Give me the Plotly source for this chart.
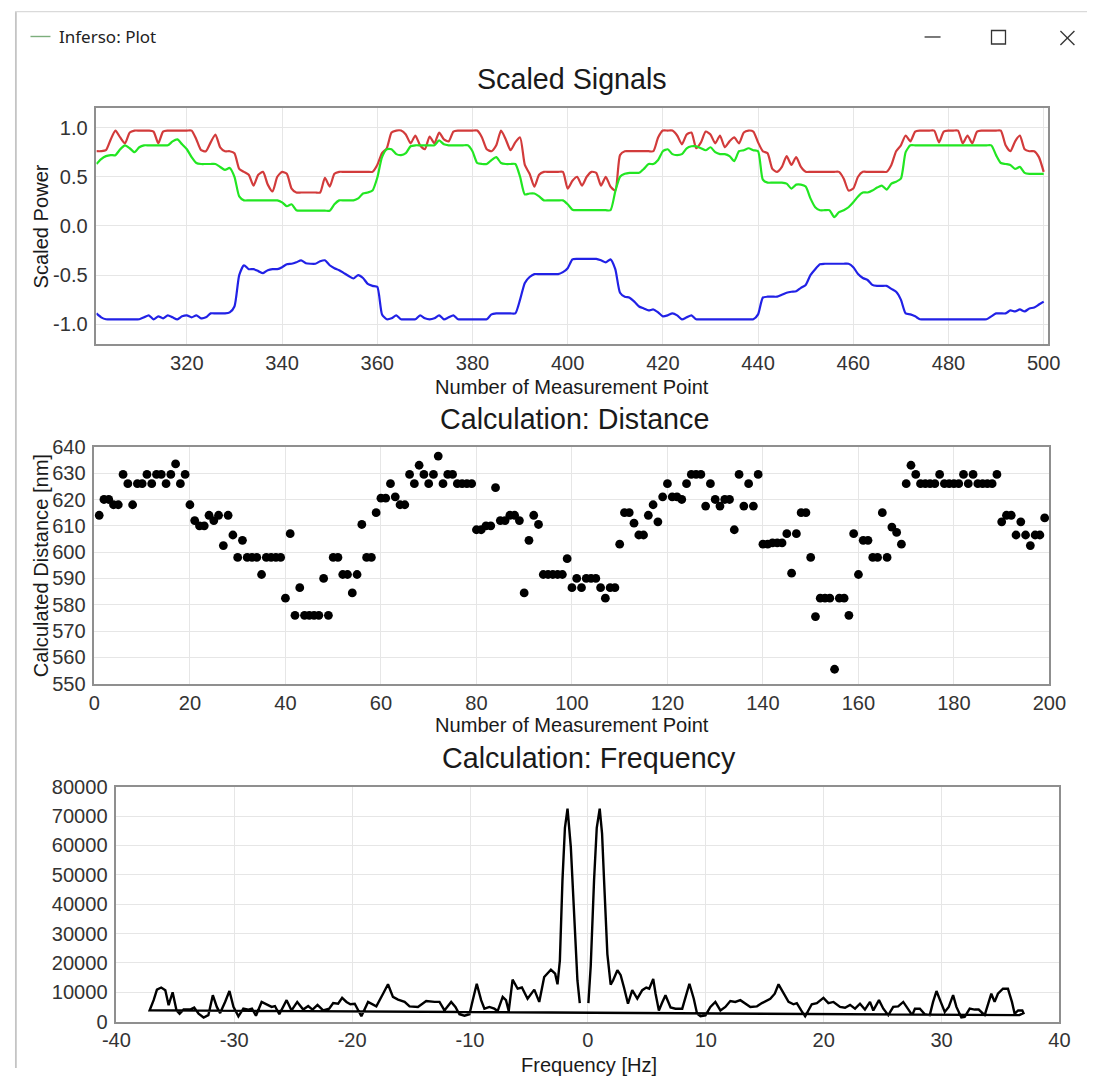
import plotly.graph_objects as go

# ---------------- data ----------------
sig_x = list(range(301, 501))
red_signal = [
    0.76, 0.76, 0.77, 0.88, 0.97, 0.90, 0.84, 0.95, 0.97, 0.97,
    0.97, 0.97, 0.96, 0.84, 0.96, 0.97, 0.97, 0.97, 0.97, 0.97,
    0.97, 0.88, 0.77, 0.76, 0.85, 0.93, 0.80, 0.76, 0.76, 0.74,
    0.58, 0.55, 0.52, 0.41, 0.52, 0.55, 0.42, 0.35, 0.50, 0.55,
    0.53, 0.38, 0.34, 0.34, 0.34, 0.34, 0.34, 0.34, 0.49, 0.40,
    0.53, 0.55, 0.55, 0.55, 0.55, 0.55, 0.55, 0.55, 0.55, 0.62,
    0.74, 0.79, 0.95, 0.97, 0.97, 0.93, 0.84, 0.92, 0.82, 0.78,
    0.91, 0.84, 0.95, 0.88, 0.86, 0.96, 0.97, 0.97, 0.97, 0.97,
    0.97, 0.90, 0.78, 0.76, 0.82, 0.97, 0.88, 0.77, 0.85, 0.90,
    0.62, 0.53, 0.40, 0.52, 0.55, 0.55, 0.55, 0.55, 0.55, 0.38,
    0.46, 0.50, 0.41, 0.50, 0.55, 0.54, 0.41, 0.50, 0.40, 0.36,
    0.72, 0.76, 0.76, 0.76, 0.76, 0.76, 0.76, 0.76, 0.90, 0.97,
    0.97, 0.97, 0.92, 0.83, 0.93, 0.95, 0.79, 0.85, 0.96, 0.93,
    0.84, 0.92, 0.80, 0.86, 0.90, 0.84, 0.95, 0.97, 0.96, 0.85,
    0.76, 0.74, 0.58, 0.55, 0.60, 0.71, 0.62, 0.70, 0.60, 0.55,
    0.55, 0.55, 0.55, 0.55, 0.55, 0.55, 0.55, 0.48, 0.36, 0.38,
    0.50, 0.55, 0.55, 0.55, 0.55, 0.55, 0.55, 0.62, 0.76, 0.82,
    0.92, 0.86, 0.96, 0.97, 0.97, 0.97, 0.97, 0.85, 0.96, 0.97,
    0.97, 0.97, 0.84, 0.92, 0.84, 0.96, 0.97, 0.97, 0.97, 0.97,
    0.97, 0.82, 0.76, 0.86, 0.92, 0.78, 0.76, 0.76, 0.70, 0.55,
]
green_signal = [
    0.63, 0.68, 0.71, 0.72, 0.72, 0.78, 0.82, 0.79, 0.75, 0.80,
    0.82, 0.82, 0.82, 0.82, 0.82, 0.82, 0.86, 0.88, 0.83, 0.78,
    0.70, 0.64, 0.63, 0.63, 0.63, 0.63, 0.60, 0.57, 0.59, 0.50,
    0.30, 0.26, 0.26, 0.26, 0.26, 0.26, 0.26, 0.26, 0.26, 0.24,
    0.20, 0.22, 0.16, 0.155, 0.155, 0.155, 0.155, 0.155, 0.155, 0.155,
    0.22, 0.26, 0.26, 0.26, 0.26, 0.28, 0.33, 0.34, 0.36, 0.49,
    0.70, 0.78, 0.78, 0.73, 0.72, 0.74, 0.81, 0.82, 0.82, 0.82,
    0.82, 0.82, 0.87, 0.83, 0.82, 0.82, 0.82, 0.82, 0.82, 0.76,
    0.64, 0.63, 0.63, 0.67, 0.70, 0.64, 0.63, 0.63, 0.63, 0.50,
    0.32, 0.33, 0.33, 0.30, 0.26, 0.26, 0.26, 0.26, 0.26, 0.22,
    0.165, 0.16, 0.16, 0.16, 0.16, 0.16, 0.16, 0.16, 0.16, 0.35,
    0.50, 0.53, 0.54, 0.54, 0.54, 0.58, 0.63, 0.63, 0.67, 0.76,
    0.78, 0.73, 0.72, 0.73, 0.79, 0.81, 0.81, 0.79, 0.77, 0.80,
    0.75, 0.73, 0.73, 0.71, 0.66, 0.76, 0.77, 0.79, 0.77, 0.76,
    0.47, 0.44, 0.44, 0.44, 0.44, 0.43, 0.38, 0.42, 0.42, 0.40,
    0.28, 0.19, 0.16, 0.16, 0.16, 0.09, 0.14, 0.16, 0.19, 0.24,
    0.30, 0.34, 0.34, 0.36, 0.39, 0.41, 0.37, 0.43, 0.45, 0.48,
    0.75, 0.82, 0.82, 0.82, 0.82, 0.82, 0.82, 0.82, 0.82, 0.82,
    0.82, 0.82, 0.82, 0.82, 0.82, 0.82, 0.82, 0.82, 0.82, 0.72,
    0.64, 0.63, 0.62, 0.58, 0.60, 0.54, 0.53, 0.53, 0.53, 0.53,
]
blue_signal = [
    -0.89, -0.93, -0.95, -0.95, -0.95, -0.95, -0.95, -0.95, -0.95, -0.95,
    -0.93, -0.91, -0.95, -0.92, -0.94, -0.91, -0.93, -0.95, -0.92, -0.91,
    -0.93, -0.91, -0.94, -0.93, -0.89, -0.89, -0.89, -0.89, -0.88, -0.82,
    -0.50, -0.40, -0.44, -0.44, -0.46, -0.48, -0.45, -0.44, -0.44, -0.42,
    -0.39, -0.385, -0.37, -0.35, -0.38, -0.385, -0.385, -0.36, -0.35, -0.40,
    -0.43, -0.45, -0.48, -0.51, -0.535, -0.50, -0.53, -0.59, -0.61, -0.62,
    -0.90, -0.95, -0.94, -0.91, -0.95, -0.95, -0.95, -0.95, -0.91, -0.94,
    -0.95, -0.94, -0.91, -0.95, -0.93, -0.91, -0.95, -0.95, -0.95, -0.95,
    -0.95, -0.95, -0.95, -0.90, -0.89, -0.89, -0.89, -0.89, -0.89, -0.75,
    -0.58, -0.52, -0.49, -0.49, -0.49, -0.49, -0.49, -0.49, -0.47, -0.43,
    -0.34, -0.335, -0.335, -0.335, -0.335, -0.335, -0.35, -0.37, -0.34, -0.44,
    -0.68, -0.72, -0.73, -0.77, -0.82, -0.84, -0.86, -0.85, -0.88, -0.92,
    -0.91, -0.89, -0.91, -0.95, -0.93, -0.91, -0.95, -0.95, -0.95, -0.95,
    -0.95, -0.95, -0.95, -0.95, -0.95, -0.95, -0.95, -0.95, -0.95, -0.90,
    -0.73, -0.72, -0.72, -0.72, -0.70, -0.68, -0.67, -0.665, -0.63, -0.60,
    -0.50, -0.44, -0.39, -0.385, -0.385, -0.385, -0.385, -0.385, -0.385, -0.42,
    -0.49, -0.53, -0.55, -0.60, -0.61, -0.61, -0.61, -0.64, -0.67, -0.75,
    -0.89, -0.90, -0.92, -0.95, -0.95, -0.95, -0.95, -0.95, -0.95, -0.95,
    -0.95, -0.95, -0.95, -0.95, -0.95, -0.95, -0.95, -0.95, -0.92, -0.89,
    -0.89, -0.89, -0.86, -0.87, -0.85, -0.87, -0.84, -0.83, -0.80, -0.77,
]

dist_x = list(range(1, 200))
distance_nm = [
    614, 620, 620, 618, 618, 629.5, 626, 618, 626, 626,
    629.5, 626, 629.5, 629.5, 626, 629.5, 633.5, 626, 629.5, 618,
    612, 610, 610, 614, 612, 614, 602.5, 614, 606.5, 598,
    604.5, 598, 598, 598, 591.5, 598, 598, 598, 598, 582.5,
    607, 576, 586.5, 576, 576, 576, 576, 590, 576, 598,
    598, 591.5, 591.5, 584.5, 591.5, 610.5, 598, 598, 615, 620.5,
    620.5, 626, 621, 618, 618, 629.5, 626, 633, 629.5, 626,
    629.5, 636.5, 626, 629.5, 629.5, 626, 626, 626, 626, 608.5,
    608.5, 610, 610, 624.5, 612, 612, 614, 614, 612, 584.5,
    604.5, 614, 610.5, 591.5, 591.5, 591.5, 591.5, 591.5, 597.5, 586.5,
    590, 586.5, 590, 590, 590, 586.5, 582.5, 586.5, 586.5, 603,
    615, 615, 611, 606.5, 606.5, 614, 618, 611.5, 621, 626,
    621, 621, 620, 626, 629.5, 629.5, 629.5, 617.5, 626, 620,
    617.5, 620, 620, 608.5, 629.5, 617.5, 626, 617.5, 629.5, 603,
    603, 603.5, 603.5, 603.5, 607, 592, 607, 615, 615, 598,
    575.5, 582.5, 582.5, 582.5, 555.5, 582.5, 582.5, 576, 607, 591.5,
    604.5, 604.5, 598, 598, 615, 598, 609.5, 607.5, 603, 626,
    633, 629.5, 626, 626, 626, 626, 629.5, 626, 626, 626,
    626, 629.5, 626, 629.5, 626, 626, 626, 626, 629.5, 611.5,
    614, 614, 606.5, 611.5, 606.5, 602.5, 606.5, 606.5, 613,
]

# spectrum: stored in acquisition order (positive half first, then negative half)
freq_pos = [0.04, 0.24, 0.52, 0.75, 1.0, 1.2, 1.37, 1.65, 1.93, 2.13, 2.5, 2.78, 3.06, 3.4,
            3.76, 4.19, 4.61, 4.95, 5.2, 5.54, 5.74, 6.02, 6.3, 6.58, 7.01, 7.43, 8.0, 8.28,
            8.61, 8.98, 9.26, 9.55, 9.97, 10.39, 10.81, 11.24, 11.66, 12.08, 12.5, 12.93,
            13.35, 13.78, 14.34, 14.76, 15.47, 15.85, 16.17, 16.6, 17.02, 17.44, 17.72,
            18.09, 18.43, 18.99, 19.42, 19.98, 20.4, 20.83, 21.39, 21.81, 22.24, 22.66,
            23.08, 23.5, 23.93, 24.21, 24.69, 25.06, 25.48, 25.9, 26.32, 26.75, 27.17,
            27.51, 27.74, 28.16, 28.58, 29.0, 29.28, 29.57, 29.93, 30.27, 30.61, 30.98,
            31.26, 31.68, 31.96, 32.39, 32.81, 33.15, 33.66, 34.22, 34.5, 34.78, 35.21,
            35.63, 35.97, 36.2, 36.5, 36.85, 36.95, 36.6]
power_pos = [6300, 19000, 48100, 66000, 72500, 64000, 48100, 23000, 12600, 14000, 17500, 15800,
             11600, 6100, 10700, 7800, 10700, 11600, 11200, 14500, 9500, 3800, 6500, 9000,
             4800, 4400, 4400, 8400, 12900, 7800, 2700, 1800, 2100, 5000, 6700, 3800, 5000,
             7000, 6700, 7300, 6100, 5000, 5200, 6300, 7800, 9500, 12700, 9500, 6700, 5900,
             6300, 3800, 1800, 5900, 6300, 8100, 6300, 6700, 5000, 4700, 5700, 4400, 6100,
             4100, 6700, 3800, 7300, 4400, 2200, 5000, 5200, 6700, 4100, 2200, 4400, 4400,
             2500, 2200, 6700, 10400, 6700, 3300, 5000, 9000, 5000, 1400, 1600, 4400, 4100,
             4100, 2200, 9500, 6700, 9500, 11200, 11200, 6700, 2700, 3800, 3800, 2900, 2200]
freq_neg = [-37.18, -36.84, -36.56, -36.2, -35.85, -35.57, -35.23, -34.9, -34.64, -34.3, -33.74,
            -33.4, -33.03, -32.6, -32.2, -31.82, -31.48, -31.2, -30.78, -30.41, -30.07, -29.65,
            -29.23, -28.8, -28.5, -28.16, -27.68, -27.25, -26.83, -26.55, -26.18, -25.56,
            -25.14, -24.66, -24.15, -23.73, -23.36, -22.94, -22.46, -21.95, -21.61, -21.19,
            -20.85, -20.48, -20.15, -19.78, -19.5, -19.22, -18.65, -18.23, -17.95, -17.38,
            -16.96, -16.54, -16.11, -15.55, -15.13, -14.42, -13.72, -13.01, -12.59, -12.17,
            -11.6, -11.24, -10.9, -10.47, -10.05, -9.77, -9.43, -9.06, -8.78, -8.36, -7.94,
            -7.66, -7.23, -6.95, -6.72, -6.39, -5.96, -5.6, -5.12, -4.55, -4.13, -3.71,
            -3.14, -2.78, -2.58, -2.38, -2.16, -1.95, -1.73, -1.45, -1.17, -0.89, -0.69]
power_neg = [3850, 7300, 10900, 11600, 10700, 5600, 10000, 3800, 2700, 4100, 4100, 4800, 2700,
             1400, 2200, 9000, 5000, 2900, 6700, 10400, 5000, 1800, 4400, 4100, 4400, 2000,
             6700, 5900, 5000, 5300, 2500, 7300, 3800, 6700, 4100, 5300, 4100, 5700, 3800,
             4400, 6300, 6100, 8100, 6700, 5900, 6100, 3800, 1800, 6700, 5700, 5200, 9500,
             12700, 8400, 7500, 6700, 5200, 5000, 7000, 6700, 6700, 3800, 6700, 5000, 2500,
             2000, 2500, 7300, 12900, 7300, 4400, 5000, 4400, 3600, 8400, 7300, 3600, 14300,
             11200, 11600, 7800, 10900, 6700, 15200, 17700, 16300, 12700, 20800, 48100, 66000,
             72500, 59400, 36800, 14000, 6300]

# tick labels (hyphen-minus as in the reference)
sig_ytick_vals = [-1.0, -0.5, 0.0, 0.5, 1.0]
sig_ytick_text = ["-1.0", "-0.5", "0.0", "0.5", "1.0"]
freq_xtick_vals = [-40, -30, -20, -10, 0, 10, 20, 30, 40]
freq_xtick_text = ["-40", "-30", "-20", "-10", "0", "10", "20", "30", "40"]

# ---------------- layout helpers ----------------
# page size, and the measured affine between page pixels and the photographed picture
W, H = 1104, 1079
SX, OX = 0.972, 14.5
SY, OY = 0.980, 10.0
FS = 1.0 / 0.976   # font compensation for the photo scale

def px(X):
    return ((X - OX) / SX) / W
def py(Y):
    return 1 - ((Y - OY) / SY) / H
def ppx(x):      # raw page pixel -> paper
    return x / W
def ppy(y):
    return 1 - y / H

FONT = "Liberation Sans, Arial, sans-serif"
TICK = dict(family=FONT, size=19.6 * FS, color="#333333")
GRID = "#e6e6e6"
BOX = "#8f8f8f"

fig = go.Figure()
fig.add_trace(go.Scatter(x=sig_x, y=red_signal, mode="lines", line=dict(color="#d23b3b", width=2.2, shape="spline", smoothing=0.6), xaxis="x", yaxis="y"))
fig.add_trace(go.Scatter(x=sig_x, y=green_signal, mode="lines", line=dict(color="#22e622", width=2.2, shape="spline", smoothing=0.6), xaxis="x", yaxis="y"))
fig.add_trace(go.Scatter(x=sig_x, y=blue_signal, mode="lines", line=dict(color="#2121e6", width=2.2, shape="spline", smoothing=0.6), xaxis="x", yaxis="y"))
fig.add_trace(go.Scatter(x=dist_x, y=distance_nm, mode="markers", marker=dict(color="black", size=8.8), xaxis="x2", yaxis="y2"))
fig.add_trace(go.Scatter(x=freq_pos + freq_neg, y=power_pos + power_neg, mode="lines", line=dict(color="black", width=2.4), xaxis="x3", yaxis="y3"))

def ax(domain, rng, dtick, anchor, **kw):
    d = dict(domain=domain, range=rng, dtick=dtick, tick0=0, anchor=anchor, showgrid=True, gridcolor=GRID,
             gridwidth=1, zeroline=False, showline=True, linecolor=BOX, linewidth=1.5, mirror=True,
             ticks="", tickfont=TICK, fixedrange=True)
    d.update(kw)
    return d

fig.update_layout(
    autosize=True, margin=dict(l=0, r=0, t=0, b=0, pad=0), showlegend=False,
    paper_bgcolor="white", plot_bgcolor="white",
    xaxis=ax([px(96), px(1049)], [301, 501], 20, "y"),
    yaxis=ax([py(343), py(107)], [-1.2, 1.2], 0.5, "x", tickmode="array",
             tickvals=sig_ytick_vals, ticktext=sig_ytick_text, ticklabelstandoff=3),
    xaxis2=ax([px(94), px(1050)], [0, 200], 20, "y2"),
    yaxis2=ax([py(683), py(446)], [550, 640], 10, "x2", ticklabelstandoff=3),
    xaxis3=ax([px(116), px(1060)], [-40, 40], 10, "y3", tickmode="array",
              tickvals=freq_xtick_vals, ticktext=freq_xtick_text),
    yaxis3=ax([py(1021), py(786)], [0, 80000], 10000, "x3", tickformat="d", ticklabelstandoff=3),
)

def label(text, x, y, size, color="#1a1a1a", angle=0, xanchor="center", family=FONT):
    fig.add_annotation(text=text, x=px(x), y=py(y), xref="paper", yref="paper", showarrow=False,
                       xanchor=xanchor, yanchor="middle", textangle=angle,
                       font=dict(family=family, size=size * FS, color=color))

label("Scaled Signals", 572, 78, 28)
label("Number of Measurement Point", 572, 386, 19.6)
label("Calculation: Distance", 575, 418, 28)
label("Number of Measurement Point", 572, 724, 19.6)
label("Calculation: Frequency", 589, 757, 28)
label("Frequency [Hz]", 589, 1064, 19.6)
label("Scaled Power", 40, 225, 19.6, angle=-90)
label("Calculated Distance [nm]", 40, 565, 19.6, angle=-90)
label("Inferso: Plot", 57, 36, 16.6, color="#222222", xanchor="left", family="Noto Sans, Open Sans, sans-serif")

# window chrome
shapes = []
def pshape(**kw):
    kw.setdefault("xref", "paper")
    kw.setdefault("yref", "paper")
    shapes.append(kw)

# window edges (drawn at the page edge, the closest reachable position)
pshape(type="line", x0=ppx(0.9), x1=ppx(0.9), y0=ppy(H), y1=ppy(0), line=dict(color="#c4c4c4", width=1.8))
pshape(type="line", x0=ppx(0), x1=ppx(W), y0=ppy(0.6), y1=ppy(0.6), line=dict(color="#dadada", width=1.2))
# title-bar icon
pshape(type="line", x0=px(30), x1=px(50), y0=py(35.5), y1=py(35.5), line=dict(color="#7cae7c", width=1.4))
# window buttons
pshape(type="line", x0=px(925), x1=px(941), y0=py(36), y1=py(36), line=dict(color="#333333", width=1.3))
pshape(type="rect", x0=px(992), x1=px(1006), y0=py(43), y1=py(29.5), line=dict(color="#333333", width=1.3))
pshape(type="line", x0=px(1061), x1=px(1075), y0=py(30), y1=py(44), line=dict(color="#333333", width=1.3))
pshape(type="line", x0=px(1061), x1=px(1075), y0=py(44), y1=py(30), line=dict(color="#333333", width=1.3))
fig.update_layout(shapes=shapes)

fig.write_html(
    "out.html",
    config={"displayModeBar": False},
    default_width="100vw",
    default_height="100vh",
    post_script="document.documentElement.style.overflow='hidden';document.body.style.margin='0';document.body.style.overflow='hidden';",
)
